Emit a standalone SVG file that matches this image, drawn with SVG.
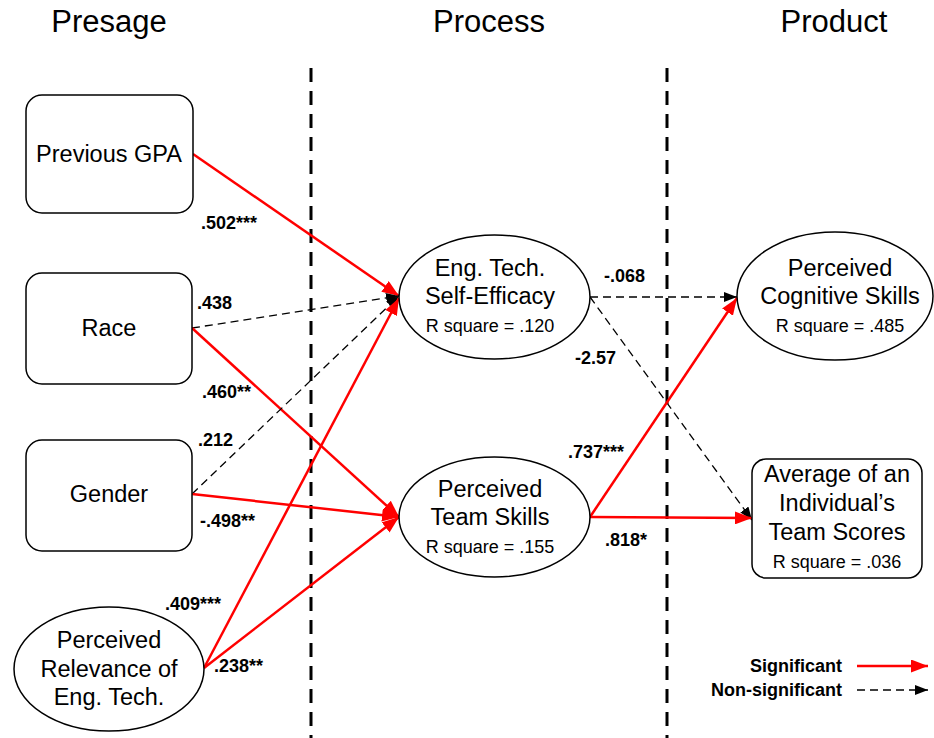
<svg xmlns="http://www.w3.org/2000/svg" width="934" height="738" viewBox="0 0 934 738">
<style>
text{font-family:"Liberation Sans",Arial,sans-serif;fill:#000}
.title{font-size:31px;text-anchor:middle}
.node{font-size:23.5px;text-anchor:middle}
.rsq{font-size:18px;text-anchor:middle}
.lbl{font-size:18px;font-weight:bold}
.shape{fill:#fff;stroke:#000;stroke-width:1.5}
.sig{stroke:#ff0000;stroke-width:2.5;fill:none}
.ns{stroke:#000;stroke-width:1.3;stroke-dasharray:8 5;fill:none}
.div{stroke:#000;stroke-width:3;stroke-dasharray:14 9}
</style>
<defs>
<marker id="ar" markerUnits="userSpaceOnUse" markerWidth="17" markerHeight="13" refX="17" refY="6.5" orient="auto"><path d="M0,0 L17,6.5 L0,13 z" fill="#ff0000"/></marker>
<marker id="ab" markerUnits="userSpaceOnUse" markerWidth="13" markerHeight="10" refX="13" refY="5" orient="auto"><path d="M0,0 L13,5 L0,10 z" fill="#000"/></marker>
</defs>
<g id="titles">
<text class="title" x="109" y="32">Presage</text>
<text class="title" x="489" y="32">Process</text>
<text class="title" x="834" y="32">Product</text>
</g>
<g id="dividers">
<line class="div" x1="311" y1="68" x2="311" y2="738"/>
<line class="div" x1="667" y1="68" x2="667" y2="738"/>
</g>
<g id="connectors">
<line class="sig" x1="193" y1="154" x2="399" y2="296" marker-end="url(#ar)"/>
<line class="ns" x1="192" y1="328" x2="399" y2="296" marker-end="url(#ab)"/>
<line class="sig" x1="192" y1="328" x2="399" y2="517" marker-end="url(#ar)"/>
<line class="ns" x1="192" y1="494" x2="399" y2="296" marker-end="url(#ab)"/>
<line class="sig" x1="192" y1="494" x2="399" y2="517" marker-end="url(#ar)"/>
<line class="sig" x1="204" y1="668" x2="399" y2="298" marker-end="url(#ar)"/>
<line class="sig" x1="204" y1="668" x2="399" y2="517" marker-end="url(#ar)"/>
<line class="ns" x1="590" y1="297" x2="737" y2="297" marker-end="url(#ab)"/>
<line class="ns" x1="590" y1="297" x2="752" y2="520" marker-end="url(#ab)"/>
<line class="sig" x1="590" y1="517" x2="737" y2="298" marker-end="url(#ar)"/>
<line class="sig" x1="590" y1="517" x2="752" y2="518" marker-end="url(#ar)"/>
</g>
<g id="labels">
<text class="lbl" x="201" y="229">.502***</text>
<text class="lbl" x="197" y="309">.438</text>
<text class="lbl" x="202" y="398">.460**</text>
<text class="lbl" x="198" y="446">.212</text>
<text class="lbl" x="200" y="527">-.498**</text>
<text class="lbl" x="165" y="610">.409***</text>
<text class="lbl" x="214" y="672">.238**</text>
<text class="lbl" x="604" y="282">-.068</text>
<text class="lbl" x="575" y="364">-2.57</text>
<text class="lbl" x="568" y="458">.737***</text>
<text class="lbl" x="605" y="546">.818*</text>
</g>
<g id="previous-gpa">
<rect class="shape" x="26" y="95" width="167" height="118" rx="16"/>
<text class="node" x="109" y="162">Previous GPA</text>
</g>
<g id="race">
<rect class="shape" x="26" y="273" width="166" height="111" rx="16"/>
<text class="node" x="109" y="336">Race</text>
</g>
<g id="gender">
<rect class="shape" x="26" y="440" width="166" height="111" rx="16"/>
<text class="node" x="109" y="502">Gender</text>
</g>
<g id="relevance">
<ellipse class="shape" cx="109" cy="669" rx="95" ry="62"/>
<text class="node" x="109" y="648">Perceived</text>
<text class="node" x="109" y="677">Relevance of</text>
<text class="node" x="109" y="705">Eng. Tech.</text>
</g>
<g id="self-efficacy">
<ellipse class="shape" cx="494.5" cy="297" rx="95.5" ry="62"/>
<text class="node" x="490" y="276">Eng. Tech.</text>
<text class="node" x="490" y="304">Self-Efficacy</text>
<text class="rsq" x="490" y="332">R square = .120</text>
</g>
<g id="team-skills">
<ellipse class="shape" cx="494.5" cy="517" rx="95.5" ry="60"/>
<text class="node" x="490" y="497">Perceived</text>
<text class="node" x="490" y="525">Team Skills</text>
<text class="rsq" x="490" y="553">R square = .155</text>
</g>
<g id="cognitive-skills">
<ellipse class="shape" cx="835" cy="296" rx="98" ry="64"/>
<text class="node" x="840" y="276">Perceived</text>
<text class="node" x="840" y="304">Cognitive Skills</text>
<text class="rsq" x="840" y="332">R square = .485</text>
</g>
<g id="team-scores">
<rect class="shape" x="752" y="459" width="170" height="119" rx="14"/>
<text class="node" x="837" y="482">Average of an</text>
<text class="node" x="837" y="511">Individual’s</text>
<text class="node" x="837" y="540">Team Scores</text>
<text class="rsq" x="837" y="568">R square = .036</text>
</g>
<g id="legend">
<text class="lbl" x="842" y="672" text-anchor="end">Significant</text>
<line class="sig" x1="857" y1="666" x2="928" y2="666" marker-end="url(#ar)"/>
<text class="lbl" x="842" y="696" text-anchor="end">Non-significant</text>
<line class="ns" x1="857" y1="690" x2="928" y2="690" stroke-dasharray="10 8" marker-end="url(#ab)"/>
</g>
</svg>
